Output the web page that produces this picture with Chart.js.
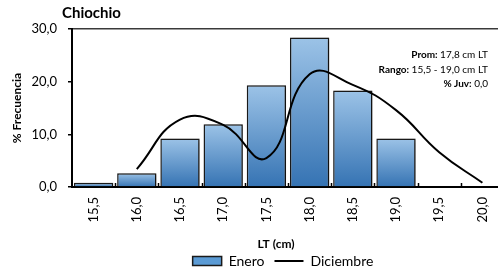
<!DOCTYPE html>
<html>
<head>
<meta charset="utf-8">
<script src="https://cdn.jsdelivr.net/npm/chart.js@4/dist/chart.umd.min.js"></script>
<style>
  html, body { margin: 0; padding: 0; background: #fff; overflow: hidden; }
  #wrap { width: 498px; height: 274px; overflow: hidden; }
</style>
</head>
<body>
<div id="wrap"><canvas id="chart" width="566" height="278"></canvas></div>
<script>
// tallas (LT, cm)
const categorias = ['15,5', '16,0', '16,5', '17,0', '17,5', '18,0', '18,5', '19,0', '19,5', '20,0'];
const enero = [0.8, 2.6, 9.2, 11.9, 19.3, 28.4, 18.3, 9.2, 0, 0];
const diciembre = [null, 3.4, 12.8, 11.8, 5.5, 21.4, 19.4, 14.6, 6.6, 0.8];
const yTicks = [0, 10, 20, 30];

const info = [
  ['Prom: ', '17,8 cm LT'],
  ['Rango: ', '15,5 - 19,0 cm LT'],
  ['% Juv: ', '0,0']
];

const fuente = 'Lato, "Open Sans", sans-serif';
const ALTO = 278;      // el lienzo es algo mayor que la ventana
const BASE = 187;      // linea del eje x

function coma(v) {
  return v.toFixed(1).replace('.', ',');
}

// degradado por barra (claro arriba, oscuro abajo)
function rellenoBarra(c) {
  const chart = c.chart;
  if (!chart.chartArea || c.type !== 'data' || !chart.scales.y) return '#5b9bd5';
  const yTop = chart.scales.y.getPixelForValue(c.raw || 0);
  const yBot = chart.scales.y.getPixelForValue(0);
  if (yBot - yTop < 1) return '#5b9bd5';
  const g = chart.ctx.createLinearGradient(0, yTop, 0, yBot);
  g.addColorStop(0, '#9cc3e7');
  g.addColorStop(1, '#3573b3');
  return g;
}

const sombra = {
  id: 'sombra',
  beforeDatasetDraw(chart, args) {
    if (args.index !== 0) return;
    const ctx = chart.ctx;
    ctx.save();
    ctx.shadowColor = 'rgba(0,0,0,0.45)';
    ctx.shadowOffsetX = 2;
    ctx.shadowOffsetY = 1;
    ctx.shadowBlur = 3;
  },
  afterDatasetDraw(chart, args) {
    if (args.index !== 0) return;
    chart.ctx.restore();
  }
};

const marcas = {
  id: 'marcas',
  beforeDatasetsDraw(chart) {
    const ctx = chart.ctx;
    const x = chart.scales.x;
    const bottom = chart.chartArea.bottom;
    const paso = (x.right - x.left) / categorias.length;
    ctx.save();
    ctx.strokeStyle = '#000';
    ctx.lineWidth = 1.5;
    for (let i = 1; i < categorias.length; i++) {
      const px = Math.round(x.left + i * paso) + 0.5;
      ctx.beginPath();
      ctx.moveTo(px, bottom - 4);
      ctx.lineTo(px, bottom);
      ctx.stroke();
    }
    ctx.restore();
  }
};

const textos = {
  id: 'textos',
  afterDraw(chart) {
    const ctx = chart.ctx;
    ctx.save();
    ctx.fillStyle = '#000';
    ctx.textBaseline = 'middle';

    ctx.font = 'bold 15px ' + fuente;
    ctx.textAlign = 'left';
    ctx.fillText('Chiochio', 62, 13);

    ctx.font = 'bold 12px ' + fuente;
    ctx.textAlign = 'center';
    ctx.fillText('LT (cm)', 276, 244);

    ctx.save();
    ctx.translate(17, 108);
    ctx.rotate(-Math.PI / 2);
    ctx.fillText('% Frecuencia', 0, 0);
    ctx.restore();

    const xDer = 488;
    const ys = [55, 70, 84];
    info.forEach((l, i) => {
      ctx.font = '10px ' + fuente;
      const w2 = ctx.measureText(l[1]).width;
      ctx.textAlign = 'right';
      ctx.fillText(l[1], xDer, ys[i]);
      ctx.font = 'bold 10px ' + fuente;
      ctx.fillText(l[0], xDer - w2, ys[i]);
    });
    ctx.restore();
  }
};

new Chart(document.getElementById('chart').getContext('2d'), {
  type: 'bar',
  data: {
    labels: categorias,
    datasets: [
      {
        label: 'Enero',
        data: enero,
        order: 1,
        backgroundColor: rellenoBarra,
        borderColor: '#1a1a1a',
        borderWidth: 1.5,
        barPercentage: 0.91,
        categoryPercentage: 1
      },
      {
        type: 'line',
        label: 'Diciembre',
        data: diciembre,
        order: 0,
        borderColor: '#000',
        backgroundColor: '#000',
        borderWidth: 2,
        tension: 0.45,
        pointRadius: 0,
        fill: false
      }
    ]
  },
  options: {
    responsive: false,
    animation: false,
    layout: { padding: { top: 29, right: 0, left: 0, bottom: 0 } },
    plugins: {
      tooltip: { enabled: false },
      title: { display: false },
      legend: {
        position: 'bottom',
        labels: {
          font: { family: fuente, size: 14 },
          color: '#000',
          usePointStyle: true,
          pointStyleWidth: 29,
          boxHeight: 9,
          padding: 10,
          sort: (a, b) => a.datasetIndex - b.datasetIndex,
          generateLabels: (chart) => {
            const items = Chart.defaults.plugins.legend.labels.generateLabels(chart);
            items.forEach(it => {
              if (it.datasetIndex === 0) {
                it.pointStyle = 'rect';
                it.fillStyle = '#5b9bd5';
                it.strokeStyle = '#1a1a1a';
                it.lineWidth = 1.5;
              } else {
                it.pointStyle = 'line';
                it.strokeStyle = '#000';
                it.lineWidth = 2;
              }
            });
            return items;
          }
        }
      }
    },
    scales: {
      x: {
        grid: { display: false, drawTicks: false },
        border: { display: true, color: '#000', width: 2 },
        ticks: {
          color: '#000',
          font: { family: fuente, size: 13 },
          minRotation: 90,
          maxRotation: 90,
          padding: 10,
          autoSkip: false
        },
        afterFit: (scale) => {
          scale.height = ALTO - scale.chart.legend.height - BASE;
        }
      },
      y: {
        min: 0,
        max: 30,
        afterBuildTicks: (scale) => {
          scale.ticks = yTicks.map(v => ({ value: v }));
        },
        grid: {
          color: (c) => (c.tick && c.tick.value === 30 ? '#3a3a3a' : 'rgba(0,0,0,0)'),
          lineWidth: 1.5,
          tickColor: '#000',
          tickLength: 4
        },
        border: { display: true, color: '#000', width: 2 },
        ticks: {
          color: '#000',
          font: { family: fuente, size: 13 },
          padding: 11,
          callback: (v) => coma(v)
        },
        afterFit: (scale) => {
          scale.width = 72;
        }
      },
      // eje vacio a la derecha: deja el area del grafico en x=504
      hueco: {
        type: 'linear',
        position: 'right',
        min: 0,
        max: 30,
        grid: { display: false, drawTicks: false },
        border: { display: false },
        ticks: { display: false },
        afterFit: (scale) => {
          scale.width = 62;
        }
      }
    }
  },
  plugins: [sombra, marcas, textos]
});
</script>
</body>
</html>
